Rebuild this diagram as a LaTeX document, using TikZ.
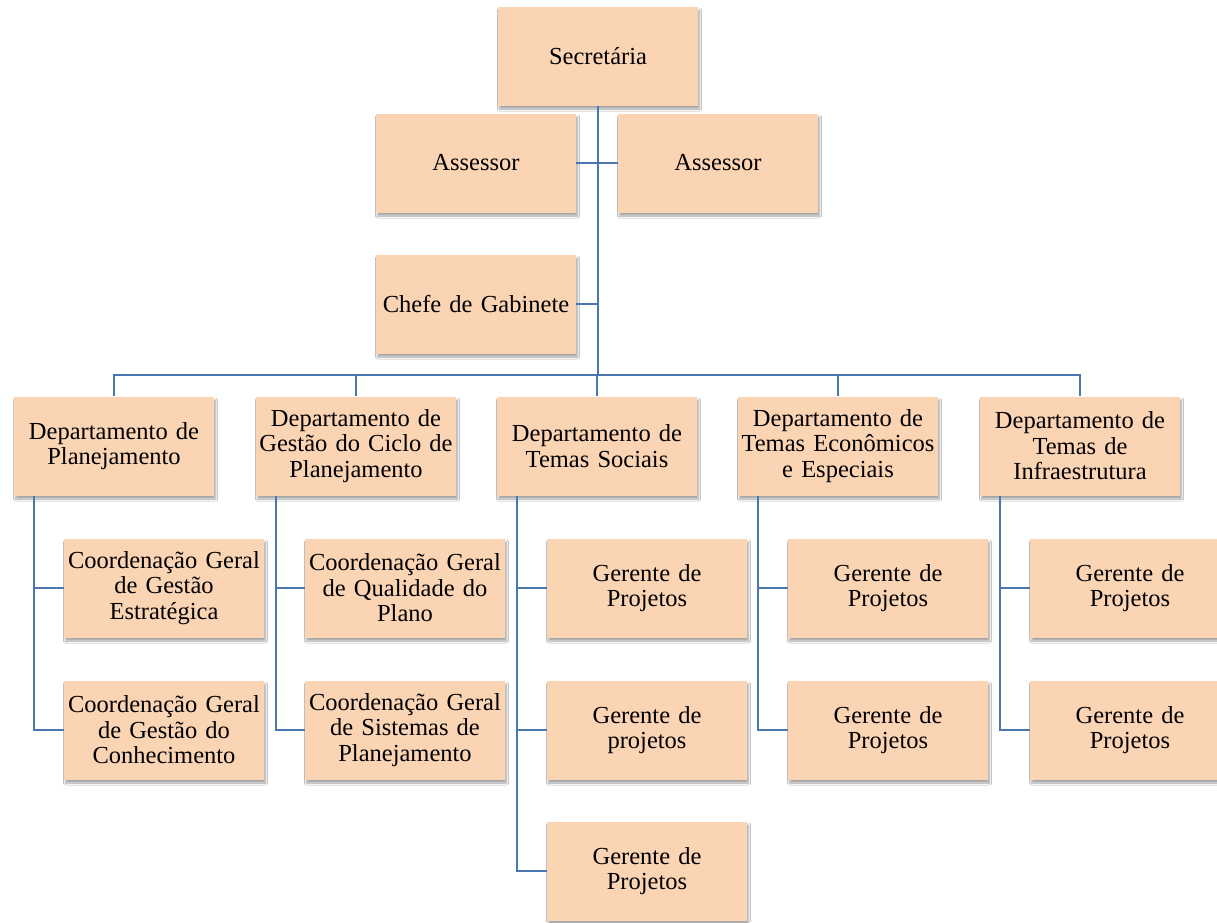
\documentclass[tikz,border=0pt]{standalone}
\usepackage{fontspec}
\setmainfont[WordSpace={0.85,0.5,0.5}]{Liberation Serif}
\usetikzlibrary{shadows.blur}
\definecolor{boxfill}{HTML}{FBD4B4}
\definecolor{linec}{HTML}{4A77AE}
\tikzset{
  orgbox/.style={rectangle, fill=boxfill, minimum width=200pt, minimum height=99pt,
    inner sep=0pt, align=center, text width=200pt,
    font=\fontsize{24.5pt}{25.5pt}\selectfont,
    blur shadow={shadow xshift=1.5pt, shadow yshift=-3.5pt, shadow blur radius=2pt, shadow blur steps=6, shadow opacity=35}},
  conn/.style={draw=linec, line width=1.8pt}
}
\begin{document}
\begin{tikzpicture}[x=1pt,y=-1pt]
\useasboundingbox (0,0) rectangle (1217,922);
\clip (0,0) rectangle (1217,922);
\fill[white] (0,0) rectangle (1217,922);
% boxes
\node[orgbox] (sec) at (598,56) {Secretária};
\node[orgbox] (asl) at (476,163) {Assessor};
\node[orgbox] (asr) at (718,163) {Assessor};
\node[orgbox] (ch) at (476,304) {Chefe de Gabinete};
\node[orgbox] (d1) at (114,446) {Departamento de\\Planejamento};
\node[orgbox] (d2) at (356,446) {Departamento de\\Gestão do Ciclo de\\Planejamento};
\node[orgbox] (d3) at (597,446) {Departamento de\\Temas Sociais};
\node[orgbox] (d4) at (838,446) {Departamento de\\Temas Econômicos\\e Especiais};
\node[orgbox] (d5) at (1080,446) {Departamento de\\Temas de\\Infraestrutura};
\node[orgbox] (c11) at (164,588) {Coordenação Geral\\de Gestão\\Estratégica};
\node[orgbox] (c12) at (164,730) {Coordenação Geral\\de Gestão do\\Conhecimento};
\node[orgbox] (c21) at (405,588) {Coordenação Geral\\de Qualidade do\\Plano};
\node[orgbox] (c22) at (405,730) {Coordenação Geral\\de Sistemas de\\Planejamento};
\node[orgbox] (c31) at (647,588) {Gerente de\\Projetos};
\node[orgbox] (c32) at (647,730) {Gerente de\\projetos};
\node[orgbox] (c33) at (647,871) {Gerente de\\Projetos};
\node[orgbox] (c41) at (888,588) {Gerente de\\Projetos};
\node[orgbox] (c42) at (888,730) {Gerente de\\Projetos};
\node[orgbox] (c51) at (1130,588) {Gerente de\\Projetos};
\node[orgbox] (c52) at (1130,730) {Gerente de\\Projetos};
% connectors
\coordinate (bus) at (sec.south |- 0,375);
\draw[conn] (sec.south) -- (bus);
\draw[conn] (asl.east) -- (asr.west);
\draw[conn] (ch.east) -- (ch.east -| sec.south);
\draw[conn] (d1.north) |- (bus) -| (d5.north);
\draw[conn] (d2.north) -- (d2.north |- bus);
\draw[conn] (d3.north) -- (d3.north |- bus);
\draw[conn] (d4.north) -- (d4.north |- bus);
\draw[conn] ([xshift=20pt]d1.south west) |- (c11.west);
\draw[conn] ([xshift=20pt]d1.south west) |- (c12.west);
\draw[conn] ([xshift=20pt]d2.south west) |- (c21.west);
\draw[conn] ([xshift=20pt]d2.south west) |- (c22.west);
\draw[conn] ([xshift=20pt]d3.south west) |- (c31.west);
\draw[conn] ([xshift=20pt]d3.south west) |- (c32.west);
\draw[conn] ([xshift=20pt]d3.south west) |- (c33.west);
\draw[conn] ([xshift=20pt]d4.south west) |- (c41.west);
\draw[conn] ([xshift=20pt]d4.south west) |- (c42.west);
\draw[conn] ([xshift=20pt]d5.south west) |- (c51.west);
\draw[conn] ([xshift=20pt]d5.south west) |- (c52.west);
\end{tikzpicture}
\end{document}
